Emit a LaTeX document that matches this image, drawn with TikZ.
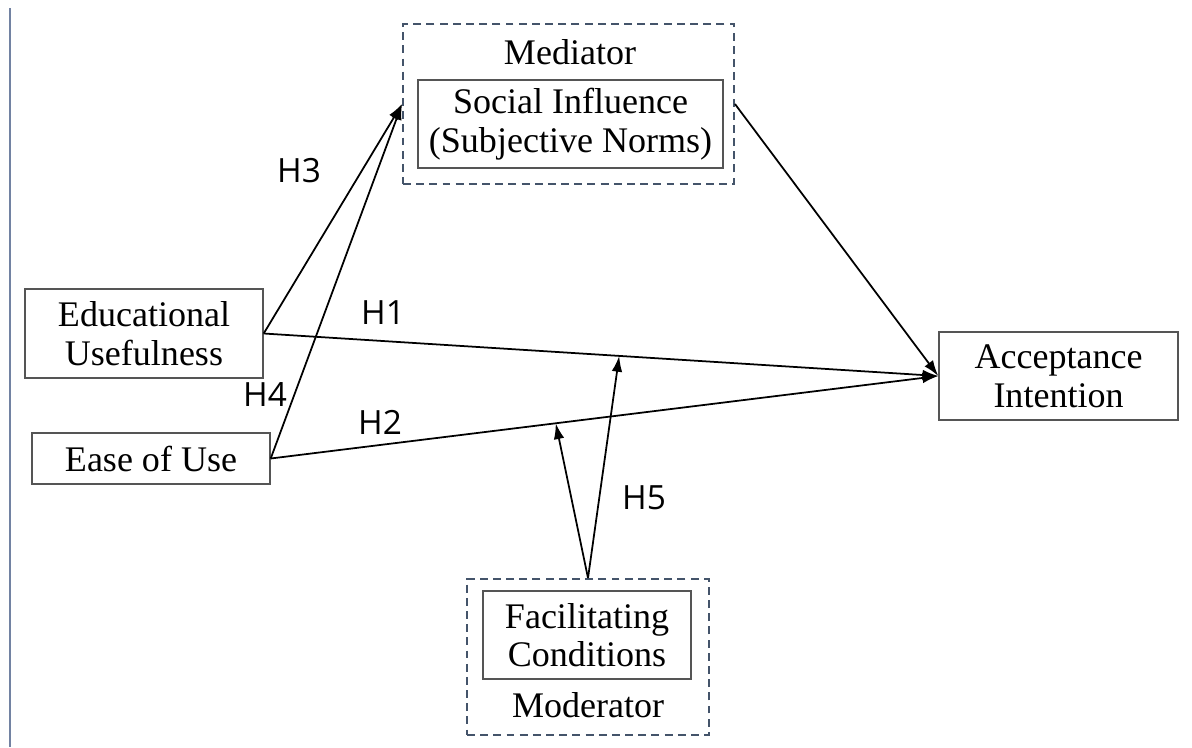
\documentclass[tikz,border=0pt]{standalone}
\usepackage{fontspec}
\setmainfont{Liberation Serif}
\newfontfamily\hypfont{Open Sans}
\usepackage{tikz}
\usetikzlibrary{arrows.meta}
\usetikzlibrary{calc}
\definecolor{frameblue}{HTML}{44546A}
\definecolor{rulegray}{HTML}{7282A2}
\definecolor{boxgray}{HTML}{555555}

\begin{document}
\begin{tikzpicture}[x=0.02cm,y=-0.02cm]
\tikzstyle{every node}=[font=\fontsize{20.5}{22}\selectfont]
\tikzstyle{construct}=[draw=boxgray, line width=0.8pt, inner sep=0pt, align=center]
\tikzstyle{group}=[draw=frameblue, line width=1.1pt, dash pattern=on 4.5pt off 3pt, inner sep=0pt]
\tikzstyle{hyp}=[font=\hypfont\fontsize{19}{20}\selectfont]
\tikzstyle{path}=[->, >={Latex[length=9pt,width=6pt]}, line width=1pt]
\useasboundingbox (0,0) rectangle (1192,747);
\draw [rulegray, line width=1.7pt] (10,8) -- (10,747);
% mediator and moderator groups
\node [group, minimum width=331*0.02cm, minimum height=160*0.02cm] (med) at (568.5,104) {};
\node (medlabel) at (570,52) {Mediator};
\node [construct, minimum width=305*0.02cm, minimum height=88*0.02cm] (si) at (570.5,124) {Social Influence\\(Subjective Norms)};
\node [group, minimum width=242*0.02cm, minimum height=156*0.02cm] (mod) at (588,657) {};
\node [construct, minimum width=208*0.02cm, minimum height=88*0.02cm] (fc) at (587,635) {Facilitating\\Conditions};
\node (modlabel) at (588,705) {Moderator};
% constructs
\node [construct, minimum width=238*0.02cm, minimum height=89*0.02cm] (eu) at (144,333.5) {Educational\\Usefulness};
\node [construct, minimum width=238*0.02cm, minimum height=51*0.02cm] (eou) at (151,458.5) {Ease of Use};
\node [construct, minimum width=239*0.02cm, minimum height=88*0.02cm] (acc) at (1058.5,376) {Acceptance\\Intention};
% paths
\draw [path] (eu.east) -- (med.west);
\draw [path] (eou.east) -- (med.west);
\draw [path] (eu.east) -- (acc.west);
\draw [path] (eou.east) -- (acc.west);
\draw [path] (med.east) -- (acc.west);
\coordinate (h1mid) at ($(eu.east)!0.527!(acc.west)$);
\coordinate (h2mid) at ($(eou.east)!0.427!(acc.west)$);
\draw [path] (mod.north) -- (h1mid);
\draw [path] (mod.north) -- (h2mid);
% labels
\node [hyp] (h3) at (299,171) {H3};
\node [hyp] (h1) at (383,313) {H1};
\node [hyp] (h4) at (265,395) {H4};
\node [hyp] (h2) at (380,422) {H2};
\node [hyp] (h5) at (644,498) {H5};
\end{tikzpicture}
\end{document}
